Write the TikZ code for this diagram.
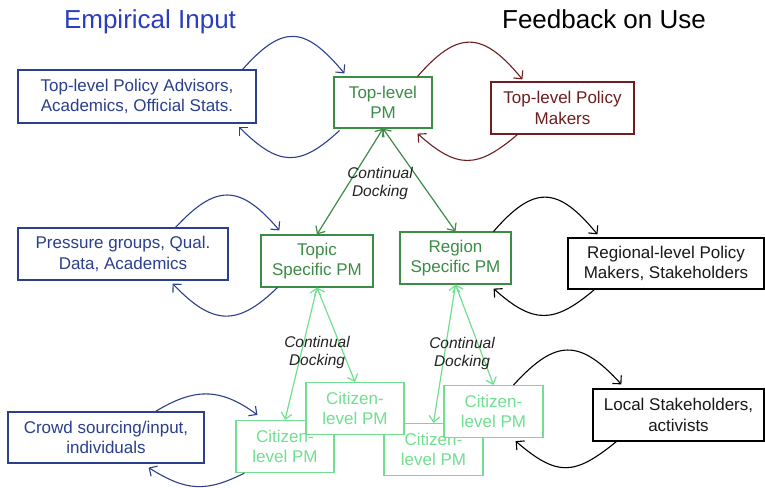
\documentclass[tikz,border=0pt]{standalone}
\usepackage{fontspec}
\setmainfont{Liberation Sans}
\usetikzlibrary{arrows.meta}
\definecolor{navy}{HTML}{2B3F8C}
\definecolor{titleblue}{HTML}{2A3DBF}
\definecolor{dkgreen}{HTML}{3C8C46}
\definecolor{ltgreen}{HTML}{70E090}
\definecolor{dkred}{HTML}{6E1E1E}
\definecolor{lbl}{HTML}{222222}
\tikzset{
  box/.style={draw, line width=1.2pt, fill=white, align=center, inner sep=0pt,
    font=\fontsize{17}{20.5}\selectfont},
  navybox/.style={box, draw=navy, text=navy},
  dgbox/.style={box, draw=dkgreen, text=dkgreen},
  lgbox/.style={box, draw=ltgreen, text=ltgreen, minimum width=98pt, minimum height=52pt},
  redbox/.style={box, draw=dkred, text=dkred},
  blkbox/.style={box, draw=black, text=black!90},
  loop/.style={line width=1.1pt, -{Straight Barb[length=6pt,width=12pt]}},
  dock/.style={line width=1.2pt, {Straight Barb[length=6pt,width=11pt]}-{Straight Barb[length=6pt,width=11pt]}},
  docklabel/.style={align=center, text=lbl, font=\fontsize{15.5}{18}\selectfont\itshape, inner sep=0pt},
  titlestyle/.style={font=\fontsize{26}{30}\selectfont, anchor=base, inner sep=0pt}
}
\begin{document}
\begin{tikzpicture}[x=1pt,y=-1pt]
\useasboundingbox (0,0) rectangle (765,487);

% titles
\node[titlestyle, text=titleblue] (t1) at (150,29) {Empirical Input};
\node[titlestyle, text=black] (t2) at (604,29) {Feedback on Use};

% boxes
\node[navybox, minimum width=238pt, minimum height=53pt] (adv) at (137,96.5) {Top-level Policy Advisors,\\Academics, Official Stats.};
\node[dgbox, minimum width=98pt, minimum height=51pt] (toppm) at (383,102.5) {Top-level\\PM};
\node[redbox, minimum width=143pt, minimum height=52pt] (toppol) at (562.5,108) {Top-level Policy\\Makers};
\node[navybox, minimum width=210pt, minimum height=52pt] (press) at (123,254) {Pressure groups, Qual.\\Data, Academics};
\node[dgbox, minimum width=112pt, minimum height=52pt] (topic) at (317,261) {Topic\\Specific PM};
\node[dgbox, minimum width=111pt, minimum height=52pt] (region) at (455.5,258) {Region\\Specific PM};
\node[blkbox, minimum width=196pt, minimum height=51pt] (regional) at (666,263.5) {Regional-level Policy\\Makers, Stakeholders};
\node[navybox, minimum width=196pt, minimum height=51pt] (crowd) at (106,437.5) {Crowd sourcing/input,\\individuals};
\node[blkbox, minimum width=171pt, minimum height=52pt] (local) at (678.5,415) {Local Stakeholders,\\activists};

\node[lgbox] (c1) at (285,446.5) {Citizen-\\level PM};
\node[lgbox, minimum width=99pt] (c3) at (433.5,449.5) {Citizen-\\level PM};
\node[lgbox] (c2) at (355,408.5) {Citizen-\\level PM};
\node[lgbox, minimum width=99pt] (c4) at (493.5,411.5) {Citizen-\\level PM};

% docking arrows
\draw[dock, draw=dkgreen] (toppm.south) -- (topic.north);
\draw[dock, draw=dkgreen] (toppm.south) -- (region.north);
\draw[dock, draw=ltgreen] (topic.south) -- (c1.north);
\draw[dock, draw=ltgreen] (topic.south) -- (c2.north);
\draw[dock, draw=ltgreen] (region.south) -- (c3.north);
\draw[dock, draw=ltgreen] (region.south) -- (c4.north);

\node[docklabel] (d1) at (380,183) {Continual\\Docking};
\node[docklabel] (d2) at (317,352) {Continual\\Docking};
\node[docklabel] (d3) at (462,353) {Continual\\Docking};

% loops
\draw[loop, draw=navy] ([xshift=-14pt]adv.north east) .. controls +(40,-45) and +(-40,-48) .. ([xshift=11pt,yshift=3pt]toppm.north west);
\draw[loop, draw=navy] ([xshift=6pt,yshift=-2pt]toppm.south west) .. controls +(-40,37) and +(40,40) .. ([xshift=-18pt,yshift=-3pt]adv.south east);

\draw[loop, draw=dkred] ([xshift=-15pt]toppm.north east) .. controls +(40,-46) and +(-40,-49) .. ([xshift=32pt,yshift=2pt]toppol.north west);
\draw[loop, draw=dkred] ([xshift=27pt]toppol.south west) .. controls +(-40,34) and +(40,36) .. ([xshift=-15pt,yshift=-5pt]toppm.south east);

\draw[loop, draw=navy] ([xshift=-53pt]press.north east) .. controls +(40,-43) and +(-40,-47) .. ([xshift=19pt,yshift=4pt]topic.north west);
\draw[loop, draw=navy] ([xshift=17pt]topic.south west) .. controls +(-40,39) and +(40,42) .. ([xshift=-56pt,yshift=-3pt]press.south east);

\draw[loop, draw=black] ([xshift=-18pt]region.north east) .. controls +(40,-46) and +(-40,-49) .. ([xshift=30pt,yshift=3pt]regional.north west);
\draw[loop, draw=black] ([xshift=27pt]regional.south west) .. controls +(-40,34) and +(40,36) .. ([xshift=-18pt,yshift=-4pt]region.south east);

\draw[loop, draw=navy] ([xshift=-49pt]crowd.north east) .. controls +(38,-23) and +(-38,-28) .. ([xshift=22pt,yshift=5pt]c1.north west);
\draw[loop, draw=navy] ([xshift=9pt]c1.south west) .. controls +(-38,19) and +(38,24) .. ([xshift=-56pt,yshift=-4pt]crowd.south east);

\draw[loop, draw=black] ([xshift=-30pt]c4.north east) .. controls +(42,-46) and +(-42,-46) .. ([xshift=29pt,yshift=4pt]local.north west);
\draw[loop, draw=black] ([xshift=24pt]local.south west) .. controls +(-42,34) and +(42,36) .. ([xshift=-28pt,yshift=-3pt]c4.south east);
\end{tikzpicture}
\end{document}
